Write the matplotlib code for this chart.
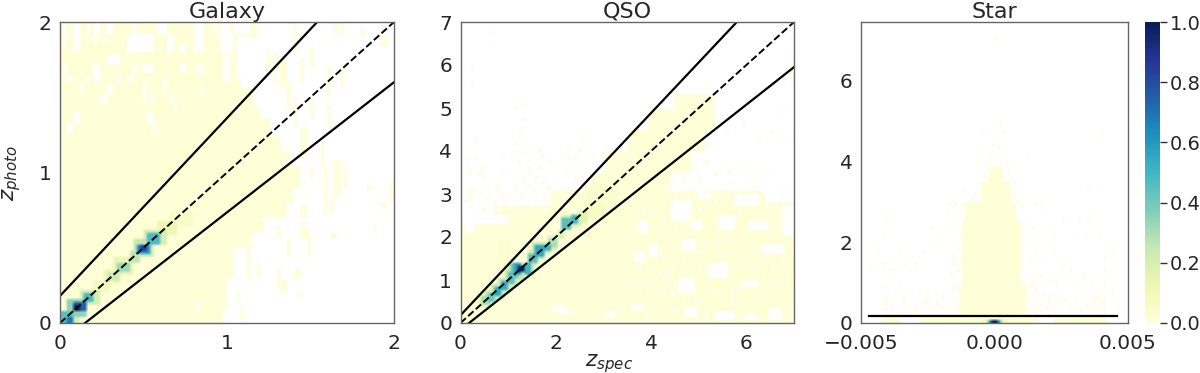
import numpy as np
import matplotlib
matplotlib.use("Agg")
import matplotlib.pyplot as plt
from matplotlib.cm import ScalarMappable
from matplotlib.colors import Normalize

# solid pale regions, one entry per band: (y0, y1, x0, x1)
gal_solid = [
    (0.0, 0.1, 0, 0.98), (0.1, 0.3, 0, 1.0), (0.3, 0.5, 0, 1.05), (0.5, 0.6, 0, 1.14),
    (0.6, 0.7, 0, 1.2), (0.7, 0.8, 0, 1.36), (0.8, 0.9, 0, 1.4), (0.9, 1.05, 0, 1.44),
    (1.05, 1.15, 0, 1.38), (1.15, 1.25, 0, 1.32), (1.25, 1.35, 0, 1.26), (1.35, 1.45, 0, 1.2),
    (1.45, 1.55, 0, 1.16), (1.55, 1.65, 0, 1.08), (1.65, 1.8, 0, 1.06), (1.8, 2.0, 0, 1.18),
]
# white gaps inside the pale regions: (x0, x1, y0, y1)
gal_holes = [
    (.02, .04, 1.93, 2), (.07, .13, 1.93, 2), (.15, .17, 1.93, 2), (.21, .25, 1.93, 2),
    (.29, .33, 1.93, 2), (.43, .47, 1.93, 2), (.58, .63, 1.93, 2), (.8, .86, 1.93, 2),
    (.92, .94, 1.93, 2), (.96, 1.02, 1.93, 2), (1.04, 1.14, 1.93, 2),
    (.41, .55, 1.8, 1.93), (.29, .37, 1.73, 1.78), (.02, .04, 1.86, 1.93), (.09, .11, 1.79, 1.93),
    (.19, .21, 1.86, 1.93), (.26, .28, 1.86, 1.93), (.64, .68, 1.8, 1.93), (.72, .75, 1.8, 1.86),
    (.8, .86, 1.8, 1.93), (.96, 1.04, 1.8, 1.93), (1.06, 1.18, 1.8, 1.9), (.02, .05, 1.65, 1.72),
    (.21, .25, 1.64, 1.72), (.5, .55, 1.66, 1.72), (.72, .75, 1.66, 1.72), (.82, .86, 1.66, 1.72),
    (.45, .47, 1.66, 1.72), (.98, 1.02, 1.6, 1.78), (.05, .07, 1.6, 1.65), (.115, .13, 1.53, 1.6),
    (.15, .17, 1.6, 1.65), (.21, .23, 1.6, 1.65), (.29, .31, 1.52, 1.58), (.34, .35, 1.6, 1.65),
    (.41, .45, 1.6, 1.65), (.5, .52, 1.46, 1.6), (.54, .55, 1.46, 1.52), (.62, .63, 1.53, 1.65),
    (.66, .68, 1.46, 1.52), (.25, .27, 1.46, 1.53), (.84, .855, 1.53, 1.58), (.68, .69, 1.4, 1.45),
    (.09, .11, 1.33, 1.4), (.05, .07, 1.26, 1.33), (.53, .55, 1.33, 1.4), (.57, .59, 1.26, 1.33),
    (.82, .83, .08, .14),
]
# isolated pale patches out in the white: (x0, x1, y0, y1)
gal_specks = [
    (1.39, 1.41, 1.8, 2), (1.63, 1.65, 1.93, 2), (1.67, 1.69, 1.93, 2), (1.79, 1.81, 1.9, 1.97),
    (1.93, 1.95, 1.83, 1.9), (1.5, 1.52, 1.7, 1.85), (1.44, 1.46, 1.6, 1.75), (1.6, 1.62, 1.5, 1.7),
    (1.67, 1.69, 1.55, 1.7), (1.33, 1.35, 1.55, 1.75), (1.28, 1.3, 1.6, 1.8), (1.24, 1.26, 1.65, 1.8),
    (1.36, 1.38, 1.45, 1.6), (1.4, 1.42, 1.3, 1.5), (1.5, 1.52, 1.35, 1.5), (1.6, 1.62, 1.3, 1.45),
    (1.2, 1.22, 1.3, 1.35), (1.45, 1.47, 1.1, 1.3), (1.55, 1.57, 1.05, 1.2), (1.58, 1.6, .95, 1.05),
    (1.65, 1.67, .85, 1.08), (1.7, 1.72, .9, 1.05), (1.98, 2.0, .8, .97), (1.83, 1.85, .88, .93),
    (1.93, 1.95, .75, .8), (1.5, 1.52, .95, 1.05), (1.58, 1.6, .72, .95), (1.62, 1.64, .72, .85),
    (1.45, 1.47, .7, .78), (1.3, 1.32, .55, .65), (1.36, 1.38, .45, .55), (1.2, 1.22, .6, .67),
    (1.45, 1.47, .55, .63), (1.62, 1.66, .55, .6), (1.87, 1.89, .6, .65), (1.08, 1.1, .5, .55),
    (1.15, 1.17, .5, .53), (1.13, 1.15, .28, .5), (1.3, 1.32, .25, .35), (1.41, 1.43, .3, .37),
    (1.42, 1.44, .15, .2), (1.33, 1.35, .2, .27), (1.19, 1.21, .3, .4), (1.07, 1.09, .02, .1),
    (1.06, 1.08, .14, .2), (1.3, 1.34, .78, .95), (1.48, 1.5, .45, .6),
]
# bright blocks along the diagonal: (x0, x1, y0, y1, value)
gal_peaks = [
    (.66, .8, .64, .74, .05), (.58, .7, .58, .68, .12), (.5, .63, .51, .62, .2), (.52, .61, .53, .6, .48),
    (.45, .56, .45, .55, .25), (.47, .54, .47, .53, .62), (.49, .52, .48, .52, .85),
    (.42, .49, .4, .48, .26), (.32, .44, .32, .43, .14), (.34, .42, .34, .41, .32),
    (.26, .37, .26, .36, .1), (.28, .35, .28, .34, .22), (.19, .3, .19, .28, .08),
    (.12, .23, .12, .22, .2), (.14, .21, .14, .2, .48), (.05, .17, .05, .16, .35),
    (.07, .15, .07, .14, .75), (.09, .13, .09, .13, 1.0), (0, .11, 0, .09, .2),
    (.01, .09, .01, .07, .45), (.03, .07, .01, .05, .68),
]

qso_solid = [
    (0.0, 2.3, 0, 7), (2.3, 2.55, .95, 7), (2.55, 2.7, .7, 7), (2.7, 3.1, 1.9, 7),
    (3.1, 3.5, 2.7, 4.4), (3.5, 4.0, 3.0, 4.8), (4.0, 4.5, 3.5, 5.1),
    (4.5, 5.0, 3.9, 5.3), (5.0, 5.35, 4.5, 5.3), (5.6, 6.1, 6.9, 7),
]
qso_holes = [
    (.05, .25, 2.1, 2.3),
    (3.63, 3.88, 1.39, 1.66), (5.17, 5.63, 1.08, 1.43), (4.54, 4.89, .69, 1.08),
    (4.44, 4.86, 2.4, 2.86), (6.29, 6.78, 1.62, 1.85), (3.7, 3.9, 2.08, 2.36),
    (5.38, 5.73, 2.16, 2.51), (5.87, 6.22, .85, 1.0), (6.7, 7, 2.0, 2.7),
    (4.6, 4.9, 1.7, 1.93), (4.82, 5.03, 2.16, 2.4), (3.9, 4.1, 1.55, 1.85),
    (6.0, 6.43, 2.16, 2.4), (3.56, 3.84, .3, .42), (4.68, 4.96, .15, .38),
    (5.3, 5.73, .07, .3), (6.43, 6.71, .07, .34), (5.94, 6.22, .07, .2),
    (2.05, 2.4, .2, .25), (1.9, 2.2, .28, .42), (3.0, 3.2, .15, .28),
    (4.96, 5.24, 2.9, 3.1), (5.73, 6.22, 2.7, 3.0), (6.4, 7, 2.8, 3.1),
]
# single pale cells: (x, y)
qso_specks = [
    (.6, 6.7), (.2, 5.9), (.18, 5.5), (1.11, 4.95), (1.29, 5.03), (1.24, 4.71), (1.16, 4.37),
    (.25, 4.2), (1.11, 4.1), (1.24, 3.95), (1.58, 4.02), (2.51, 4.27), (2.26, 4.06), (2.43, 4.02),
    (.87, 3.85), (.1, 3.77), (.31, 3.75), (.45, 3.6), (.11, 3.6), (1.16, 3.7), (1.39, 3.6),
    (1.66, 3.85), (1.81, 3.68), (1.64, 3.6), (.81, 3.52), (.11, 3.44), (.38, 3.44), (.45, 3.34),
    (2.09, 3.85), (2.23, 3.77), (2.4, 3.75), (2.72, 3.77), (1.43, 3.4), (1.53, 3.33), (1.23, 3.29),
    (2.16, 3.44), (2.58, 3.52), (2.4, 3.37), (.8, 3.17), (.69, 3.09), (.24, 3.11), (.17, 3.02),
    (1.11, 3.11), (1.32, 3.13), (1.46, 3.13), (1.71, 3.21), (1.79, 3.06), (1.29, 2.94), (1.01, 2.9),
    (.83, 2.94), (.59, 2.86), (.69, 2.78), (.48, 2.82), (.34, 3.02), (.17, 2.9), (1.15, 2.78),
    (2.09, 2.78), (.06, 2.78), (1.78, 2.94), (1.53, 2.98), (.2, 2.65), (.4, 2.6),
    (6.0, 5.0), (5.9, 4.6), (5.5, 4.4), (5.2, 4.1), (5.1, 3.7), (5.6, 3.5), (5.9, 3.6), (6.2, 4.2),
    (6.5, 4.4), (6.7, 4.9), (6.9, 4.3), (6.4, 3.4), (6.7, 3.0), (5.0, 3.3), (4.6, 3.3), (4.5, 3.6),
    (4.9, 3.6), (5.3, 3.4), (5.7, 3.2), (6.1, 3.3), (5.1, 3.0), (5.9, 2.9),
]
# single white cells in the speckled lower right: (x, y)
qso_gaps = [
    (3.8, 2.6), (4.0, 2.5), (4.2, 2.3), (4.3, 2.0), (4.2, 1.5), (4.4, 1.3), (4.1, 1.1), (3.9, .9),
    (4.3, .9), (4.4, .6), (4.2, .7), (3.7, .7), (5.0, 2.6), (5.2, 2.7), (5.05, 1.9), (5.3, 1.8),
    (5.5, 1.9), (5.7, 1.7), (5.9, 1.9), (6.1, 1.6), (5.9, 1.4), (6.1, 1.3), (6.3, 1.4), (6.5, 1.2),
    (6.7, 1.4), (6.9, 1.6), (6.8, 1.1), (6.6, .9), (6.4, .7), (6.2, .6), (5.9, .7), (5.7, .8),
    (5.4, .7), (5.1, .8), (4.9, .5), (4.6, .4), (4.4, .3), (4.2, .2), (3.9, .15), (5.1, .15),
    (5.8, .45), (6.85, .3), (6.9, .1), (6.0, 2.7), (6.4, 2.7), (5.8, 2.5), (6.0, 2.1), (6.5, 2.1),
    (4.5, 2.1), (4.7, 2.2), (4.4, 1.7), (4.6, 1.5), (4.85, 1.4), (5.0, 1.2), (5.0, 1.6), (4.3, 1.15),
    (5.7, .5), (5.5, 1.55), (6.3, 1.0), (6.6, 1.6), (3.6, 2.0), (3.7, 1.2), (3.5, .9), (3.3, .35),
    (4.5, 3.0), (4.7, 2.95), (5.4, 3.0), (5.6, 2.95), (6.3, 3.0), (4.35, 3.05), (4.9, 2.95),
    (1.0, 2.65), (1.2, 2.6), (.8, 2.6), (1.5, 2.65), (1.75, 2.62), (4.2, 3.05), (5.3, 2.8), (3.95, 2.85),
]
qso_peaks = [
    (.75, 1.05, 1.3, 1.95, .02), (2.6, 3.3, 2.5, 3.2, .035), (2.6, 3.0, 2.45, 2.75, .07),
    (.38, .66, .38, .68, .12), (.42, .6, .42, .62, .3), (.5, .76, .46, .78, .22), (.55, .72, .5, .72, .42),
    (.62, .9, .56, .9, .25), (.68, .85, .62, .85, .55), (.78, 1.05, .7, 1.05, .25),
    (.82, 1.0, .75, 1.0, .55), (.9, 1.17, .85, 1.25, .22), (.95, 1.12, .9, 1.2, .45),
    (1.0, 1.3, 1.0, 1.43, .25), (1.05, 1.22, 1.05, 1.38, .45), (1.15, 1.25, 1.15, 1.38, .6),
    (1.22, 1.35, 1.2, 1.33, 1.0), (1.15, 1.52, 1.1, 1.43, .25), (1.35, 1.48, 1.15, 1.38, .5),
    (1.38, 1.62, 1.35, 1.68, .22), (1.42, 1.58, 1.4, 1.62, .45), (1.5, 1.78, 1.5, 1.88, .22),
    (1.55, 1.72, 1.55, 1.82, .55), (1.65, 1.92, 1.6, 1.9, .22), (1.7, 1.88, 1.65, 1.85, .5),
    (1.8, 2.05, 1.7, 2.0, .15), (1.85, 2.0, 1.75, 1.95, .3), (2.0, 2.15, 1.95, 2.2, .17),
    (2.08, 2.34, 2.15, 2.52, .18), (2.12, 2.3, 2.2, 2.45, .45), (2.25, 2.5, 2.25, 2.55, .2),
    (2.28, 2.45, 2.3, 2.5, .5), (2.42, 2.66, 2.32, 2.6, .16),
]

star_solid = [
    (0.0, 0.2, -.0042, .0042), (0.2, 1.0, -.0013, .0012), (1.0, 2.0, -.0012, .001),
    (2.0, 2.5, -.0012, .001), (2.5, 3.0, -.0011, .0008), (3.0, 3.5, -.0005, .0006),
    (3.5, 3.9, -.0002, .0003),
]
star_holes = [(-.0035, -.0028, 0, .12), (.0016, .0022, .02, .15)]
star_specks = [
    (.0000, 7.0), (.0039, 7.45), (.0040, 4.6), (-.0005, 4.7), (.0002, 4.9), (.0003, 4.7), (-.0001, 4.4),
    (.0001, 4.3), (.0002, 4.2), (.0012, 4.1), (-.0006, 3.9), (-.0012, 3.3), (.0007, 3.4), (.0035, 3.3),
    (-.0017, 2.9), (-.0015, 2.9), (-.0018, 2.7), (.0015, 2.9), (.0017, 2.8), (-.0041, 2.6), (-.0024, 2.3),
    (.0025, 2.5), (.0031, 2.5), (.0035, 2.5), (.0014, 2.3), (.0022, 2.2), (.0034, 2.1), (.0039, 2.2),
    (-.0042, 2.2), (-.0044, 1.8), (-.0036, 1.7), (-.0027, 1.7), (-.0022, 2.0), (.0041, 1.9), (.0041, 1.6),
    (.0041, 1.3), (.0044, 1.7), (.0015, 1.7), (.0018, 1.6), (.0022, 1.8), (.0025, 1.4), (.0028, 1.3),
    (-.0042, 1.4), (-.0040, 1.3), (-.0038, 1.25), (-.0047, 1.3), (-.0032, 1.3), (-.0030, 1.4), (-.0016, 1.6),
    (-.0015, 1.4), (-.0017, 1.2), (.0014, 1.2), (.0017, 1.1), (.0020, 1.0), (.0023, 1.0), (.0031, 1.0),
    (.0033, 1.1), (.0036, .9), (.0041, 1.0), (-.0042, .9), (-.0040, .7), (-.0036, .8), (-.0034, .6),
    (-.0028, .7), (-.0026, .55), (-.0022, .7), (-.0020, .6), (-.0016, .8), (.0014, .7), (.0016, .6),
    (.0018, .7), (.0020, .5), (.0022, .7), (.0024, .6), (.0026, .55), (.0030, .5), (.0033, .6), (.0036, .65),
    (.0038, .6), (.0040, .7), (.0041, .5), (.0044, .65), (-.0042, .45), (-.0041, .3), (-.0037, .25),
    (-.0033, .35), (-.0024, .3), (-.0020, .4), (-.0017, .3), (.0015, .4), (.0019, .3), (.0034, .35),
    (.0037, .4), (.0039, .3), (.0041, .3), (.0046, .25),
    (-.0014, .4), (-.0015, .6), (-.0015, .9), (-.0016, 1.1), (-.0014, 1.3), (-.0013, 1.5), (-.0014, 1.8),
    (-.0013, 2.1), (-.0014, 2.4), (-.0013, 2.7), (-.0012, 2.9), (-.0009, 3.0), (-.0007, 3.2), (-.0008, 3.1),
    (-.0006, 3.4), (-.0004, 3.6), (-.0003, 3.8), (-.0002, 4.0), (.0004, 3.9), (.0005, 3.7), (.0007, 3.2),
    (.0008, 3.0), (.0010, 2.8), (.0012, 2.4), (.0013, 2.0), (.0013, 1.6), (.0014, 1.0), (.0013, .9),
    (.0015, .8), (.0013, .5), (.0014, .3), (-.0041, .6), (-.0041, .55), (-.0039, .35), (-.0035, .5),
    (-.0030, .3), (-.0028, .45), (-.0025, .5), (-.0022, .45), (.0017, .45), (.0021, .35), (.0023, .45),
    (.0028, .4), (.0032, .3), (.0035, .4), (.0037, .55), (.0039, .5), (.0040, .45),
]
star_peaks = [
    (-.0005, .0005, 0, .08, .08), (-.0003, .0003, 0, .08, .3), (-.0002, .0002, 0, .08, .7),
    (-.0001, .0001, 0, .08, 1.0),
]

lim_gal = (0, 2, 0, 2)
lim_qso = (0, 7, 0, 7)
lim_star = (-.005, .005, 0, 7.46)

# guide lines: (x values, y values)
gal_upper = ([0, 1.54], [.18, 2])
gal_lower = ([.15, 2], [0, 1.6])
qso_upper = ([0, 5.8], [.18, 7])
qso_lower = ([.18, 7], [0, 5.95])
star_line = ([-.0047, .0046], [.18, .18])

PALE = 0.004
N = 100


def cells(lim, x0, x1, y0, y1):
    dx = (lim[1] - lim[0]) / N
    dy = (lim[3] - lim[2]) / N
    i0 = int(round((x0 - lim[0]) / dx))
    i1 = max(i0 + 1, int(round((x1 - lim[0]) / dx)))
    j0 = int(round((y0 - lim[2]) / dy))
    j1 = max(j0 + 1, int(round((y1 - lim[2]) / dy)))
    return slice(j0, j1), slice(i0, i1)


def build(lim, solid, holes, specks, peaks, gaps=()):
    grid = np.zeros((N, N))
    for y0, y1, x0, x1 in solid:
        grid[cells(lim, x0, x1, y0, y1)] = PALE
    for x0, x1, y0, y1 in holes:
        grid[cells(lim, x0, x1, y0, y1)] = 0
    for x, y in gaps:
        grid[cells(lim, x, x, y, y)] = 0
    for s in specks:
        if len(s) == 2:
            grid[cells(lim, s[0], s[0], s[1], s[1])] = PALE
        else:
            grid[cells(lim, s[0], s[1], s[2], s[3])] = PALE
    for x0, x1, y0, y1, v in peaks:
        part = cells(lim, x0, x1, y0, y1)
        grid[part] = np.maximum(grid[part], v)
    return np.ma.masked_equal(grid, 0)


def draw(ax, lim, grid, title, ticks_x, ticks_y):
    # colours first so that empty cells blur into white and not into nothing
    ax.imshow(cmap(norm(grid)), origin="lower", extent=lim, aspect="auto", interpolation="bilinear")
    ax.set_xlim(lim[0], lim[1])
    ax.set_ylim(lim[2], lim[3])
    ax.set_xticks(ticks_x)
    ax.set_yticks(ticks_y)
    ax.tick_params(length=0, labelsize=14.5, labelcolor="#262626")
    ax.tick_params(axis="x", pad=8)
    ax.tick_params(axis="y", pad=6)
    ax.set_title(title, fontsize=16, color="#262626", pad=3)
    for spine in ax.spines.values():
        spine.set_color("#666666")
        spine.set_linewidth(1.0)


cmap = plt.get_cmap("YlGnBu").copy()
cmap.set_bad("white")
norm = Normalize(0, 1)

fig = plt.figure(figsize=(12, 3.73), dpi=100)


def place(x0, x1):
    return [x0 / 1200, (373 - 323) / 373, (x1 - x0) / 1200, 301 / 373]


ax1 = fig.add_axes(place(60, 394))
ax2 = fig.add_axes(place(460.5, 794))
ax3 = fig.add_axes(place(861, 1128))
cax = fig.add_axes(place(1145, 1160))

draw(ax1, lim_gal, build(lim_gal, gal_solid, gal_holes, gal_specks, gal_peaks), "Galaxy", [0, 1, 2], [0, 1, 2])
draw(ax2, lim_qso, build(lim_qso, qso_solid, qso_holes, qso_specks, qso_peaks, qso_gaps), "QSO",
     [0, 2, 4, 6], range(8))
draw(ax3, lim_star, build(lim_star, star_solid, star_holes, star_specks, star_peaks), "Star",
     [-.005, 0, .005], [0, 2, 4, 6])
ax3.set_xticklabels(["\u22120.005", "0.000", "0.005"])

for ax, lim, upper, lower in [(ax1, lim_gal, gal_upper, gal_lower), (ax2, lim_qso, qso_upper, qso_lower)]:
    ax.plot(upper[0], upper[1], color="black", lw=1.6)
    ax.plot(lower[0], lower[1], color="black", lw=1.6)
    ax.plot(lim[:2], lim[2:], color="black", lw=1.4, ls="--")
ax3.plot(star_line[0], star_line[1], color="black", lw=1.6)

ax1.set_ylabel(r"$z_{photo}$", fontsize=15.5, color="#262626")
ax1.yaxis.set_label_coords(-0.112, 0.5)
ax2.set_xlabel(r"$z_{spec}$", fontsize=15.5, color="#262626")
ax2.xaxis.set_label_coords((609 - 460.5) / 333.5, -0.098)

cb = fig.colorbar(ScalarMappable(norm, cmap), cax=cax)
cb.set_ticks([0, .2, .4, .6, .8, 1])
cb.outline.set_visible(False)
cax.tick_params(length=5, width=1, labelsize=14, labelcolor="#262626", color="#333333", pad=2)

fig.savefig("out.png", dpi=100)
